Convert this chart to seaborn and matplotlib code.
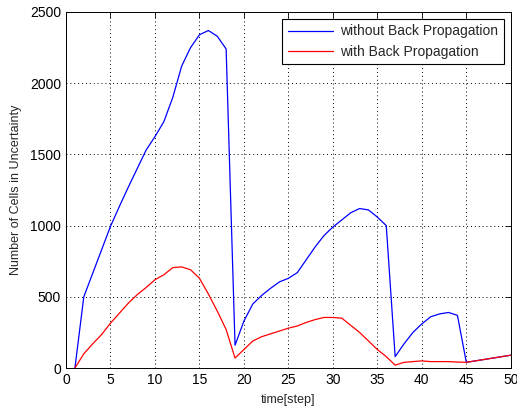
import pandas as pd
import matplotlib
matplotlib.use("Agg")
import matplotlib.pyplot as plt
import seaborn as sns

# time steps and readings
steps = list(range(1, 51))
without_bp = [0, 500, 665, 830, 995, 1135, 1270, 1400, 1530, 1625,
              1730, 1900, 2120, 2250, 2340, 2370, 2330, 2240, 160, 330,
              450, 510, 560, 605, 630, 670, 760, 850, 930, 990,
              1040, 1090, 1120, 1110, 1060, 1000, 80, 170, 250, 310,
              360, 380, 390, 370, 40, 50, 60, 70, 80, 90]
with_bp = [0, 100, 170, 235, 315, 385, 455, 515, 565, 620,
           655, 705, 710, 690, 630, 520, 400, 270, 70, 130,
           190, 220, 240, 260, 280, 295, 320, 340, 355, 355,
           350, 300, 250, 190, 130, 80, 20, 40, 45, 50,
           45, 45, 45, 42, 40, 50, 60, 70, 80, 90]
labels = ["without Back Propagation", "with Back Propagation"]

df = pd.DataFrame({
    "step": steps * 2,
    "cells": without_bp + with_bp,
    "series": [labels[0]] * len(steps) + [labels[1]] * len(steps),
})

sns.set_style("white")
plt.rcParams["font.family"] = ["Liberation Sans", "DejaVu Sans"]

fig = plt.figure(figsize=(5.17, 4.08), dpi=100)
ax = fig.add_axes([0.1277, 0.098, 0.8603, 0.8726])

sns.lineplot(data=df, x="step", y="cells", hue="series",
             palette={labels[0]: "#0000ff", labels[1]: "#ff0000"},
             linewidth=0.9, ax=ax, errorbar=None)

ax.set_xlim(0, 50)
ax.set_ylim(0, 2500)
ax.set_xticks(range(0, 51, 5))
ax.set_yticks(range(0, 2501, 500))
ax.grid(True, linestyle=(0, (1, 3)), color="black", linewidth=0.7)
ax.tick_params(direction="in", top=True, right=True, length=4,
               labelsize=10, colors="black", width=0.6)
for sp in ax.spines.values():
    sp.set_color("black")
    sp.set_linewidth(0.7)

ax.set_xlabel("time[step]", fontsize=9, labelpad=5)
ax.set_ylabel("Number of Cells in Uncertainty", fontsize=9, labelpad=6)

leg = ax.legend(loc="upper right", fontsize=10, fancybox=False,
                edgecolor="black", framealpha=1, borderaxespad=0.5,
                handlelength=3.3, handletextpad=0.5, labelspacing=0.45)
leg.get_frame().set_linewidth(0.8)

plt.savefig("out.png", dpi=100)
